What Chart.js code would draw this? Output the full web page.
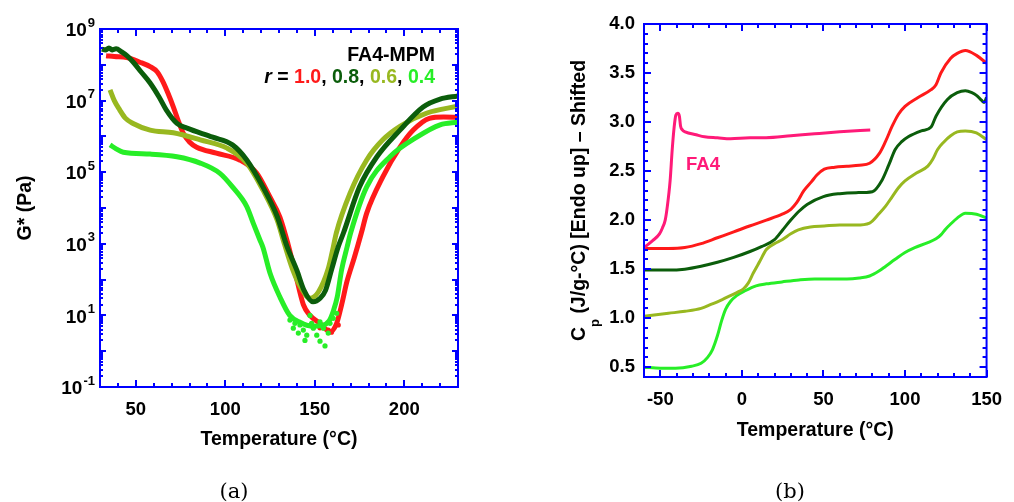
<!DOCTYPE html>
<html>
<head>
<meta charset="utf-8">
<title>FA4-MPM rheology and DSC</title>
<script src="https://cdn.jsdelivr.net/npm/chart.js@4.4.1/dist/chart.umd.min.js"></script>
<style>
  body { margin: 0; background: #fff; }
  #wrap { position: relative; width: 1014px; height: 502px; overflow: hidden; }
  canvas { position: absolute; top: 0; }
  #left { left: 0; }
  #right { left: 510px; }
  .cap { position: absolute; top: 478px; width: 60px; text-align: center;
         font: 21px 'DejaVu Serif', 'Liberation Serif', serif; line-height: 26px; }
</style>
</head>
<body>
<div id="wrap">
  <canvas id="left" width="510" height="502"></canvas>
  <canvas id="right" width="504" height="502"></canvas>
  <div class="cap" style="left:204px">(a)</div>
  <div class="cap" style="left:760px">(b)</div>
</div>
<script>
var FONT = "'Liberation Sans', Arial, Helvetica, sans-serif";
var BLUE = '#0000ff';
Chart.defaults.font.family = FONT;
Chart.defaults.color = '#000';

// (a) G* (Pa) against temperature, one series per r
var gRed = [[33.4, 1.8e8], [38, 1.7e8], [45, 1.6e8], [52, 1.2e8], [58, 8.9e7], [62, 6.3e7], [65, 3.5e7],
  [68, 1.6e7], [71, 6.6e6], [74, 2.5e6], [76.4, 1.26e6], [80, 7e5], [84, 5e5], [95, 3.4e5], [108, 2.2e5],
  [117.5, 9.5e4], [125, 2e4], [130.5, 5.6e3], [135, 1e3], [139, 160], [143.6, 20], [147.3, 10], [152.9, 6],
  [158.5, 3.5], [162.2, 6], [165, 20], [168, 90], [172, 400], [176, 2000], [179, 7.2e3], [188, 7.4e4],
  [197.6, 5e5], [205, 1.5e6], [214, 3.2e6], [222, 3.5e6], [230, 3.4e6]];
var gDark = [[31, 2.75e8], [33, 2.6e8], [35, 2.95e8], [37, 2.6e8], [39, 2.8e8], [42, 2.3e8], [45, 1.8e8],
  [48.5, 1.2e8], [53, 6.3e7], [58, 3.1e7], [63, 1.26e7], [67, 5.5e6], [73, 2.3e6], [78.6, 1.7e6], [93, 9.5e5],
  [104, 5.8e5], [112, 2.2e5], [121, 3.9e4], [129, 5.8e3], [134.5, 830], [140, 180], [144, 50], [149, 24],
  [153, 30], [156, 50], [159.5, 200], [163, 800], [166, 2000], [175, 3.9e4], [184.7, 2.7e5], [197.6, 1.5e6],
  [210.5, 6.6e6], [220, 1.1e7], [230, 1.35e7]];
var gOlive = [[35.6, 2e7], [38, 1e7], [41, 5.5e6], [44, 3.3e6], [48.5, 2.3e6], [58, 1.5e6], [71, 1.26e6],
  [86, 8e5], [101, 4.7e5], [112, 1.8e5], [121, 3.2e4], [129, 4.6e3], [133, 1000], [137.5, 200], [142, 63],
  [147.3, 30], [152, 45], [157.5, 200], [160, 680], [162, 2000], [169.7, 2.6e4], [179, 2.2e5], [188, 8e5],
  [197.6, 1.9e6], [212.7, 4.5e6], [230, 7e6]];
var gGreen = [[35.6, 5.8e5], [39, 4.5e5], [43, 3.6e5], [58, 3.2e5], [73, 2.7e5], [86, 1.8e5], [97, 9.3e4],
  [104, 3.9e4], [112, 1.1e4], [115.6, 3.8e3], [119.4, 1.26e3], [121, 800], [125, 150], [130.6, 32], [136, 10],
  [142, 6.3], [148, 5], [154, 5.2], [158, 7], [160.5, 14], [162.5, 32], [165, 190], [168, 800], [170, 2000],
  [179, 3.9e4], [192, 2.7e5], [207, 9.5e5], [220, 2.1e6], [230, 2.5e6]];
var gGreenDots = [[136.1, 7.4], [138.9, 6], [138, 4.4], [141.7, 5.4], [143.6, 3.9], [140.8, 3.2], [145.5, 2.8],
  [144.5, 2], [149.2, 4.4], [151.1, 2.8], [152.9, 1.9], [155.7, 1.4], [148.2, 6], [154.8, 4.4], [158.5, 6],
  [160.3, 8.3], [157.5, 3.2], [147.3, 10], [152.9, 6.6], [162.2, 11.5]];
var gRedDots = [[152.9, 4.5], [157.5, 3.9], [159.3, 3.4], [163.1, 5.4]];
var gTicksX = [50, 100, 150, 200];
var gTicksY = [1e-1, 1e1, 1e3, 1e5, 1e7, 1e9];
var ratios = ['1.0', '0.8', '0.6', '0.4'];
var ratioColors = ['#ff1a1a', '#0b5d0b', '#98b820', '#27ee27'];

// (b) Cp (J/g-°C), curves shifted vertically
var cpRed = [[-60, 1.71], [-45, 1.71], [-35, 1.72], [-25, 1.76], [-15, 1.82], [-5, 1.88], [4.7, 1.94],
  [15, 2.0], [24.7, 2.06], [30, 2.11], [33.7, 2.18], [38, 2.3], [42.6, 2.39], [46, 2.46], [50.5, 2.52],
  [57, 2.54], [64.3, 2.55], [72, 2.56], [78.3, 2.58], [84.3, 2.68], [88, 2.8], [92.2, 2.96], [96, 3.08],
  [100, 3.16], [108, 3.25], [116, 3.33], [119, 3.38], [122, 3.5], [128, 3.65], [132, 3.7], [137, 3.73],
  [143.8, 3.68], [150, 3.6]];
var cpDark = [[-60, 1.49], [-45, 1.49], [-35, 1.5], [-25, 1.53], [-15, 1.57], [-5, 1.62], [5, 1.68],
  [12, 1.73], [20, 1.8], [25, 1.9], [30, 2.0], [35, 2.09], [40, 2.16], [50, 2.24], [60, 2.27], [70, 2.28],
  [80, 2.29], [86, 2.41], [90, 2.56], [94, 2.72], [98, 2.8], [102, 2.85], [110, 2.91], [116, 2.95],
  [119, 3.06], [126, 3.23], [132, 3.3], [137, 3.32], [141, 3.3], [144, 3.27], [147, 3.22], [148.5, 3.2],
  [150, 3.25]];
var cpOlive = [[-60, 1.02], [-45, 1.05], [-34.8, 1.07], [-25, 1.1], [-19, 1.14], [-12, 1.19], [-7, 1.23],
  [-2, 1.27], [1, 1.3], [4, 1.36], [7, 1.46], [11, 1.58], [15, 1.7], [20, 1.76], [24.7, 1.8], [30, 1.86],
  [34.6, 1.9], [42, 1.93], [50.5, 1.94], [60, 1.95], [70, 1.95], [78.3, 1.97], [84.3, 2.07], [88, 2.14],
  [92.2, 2.24], [96, 2.33], [100, 2.4], [107, 2.48], [114, 2.55], [117, 2.62], [120, 2.72], [124, 2.8],
  [128, 2.86], [132, 2.9], [137, 2.91], [143.8, 2.89], [150, 2.82]];
var cpGreen = [[-60, 0.5], [-50, 0.49], [-40.7, 0.49], [-30.8, 0.51], [-25, 0.54], [-21, 0.6], [-18, 0.68],
  [-15, 0.82], [-12.5, 0.97], [-10, 1.09], [-7, 1.17], [-3.2, 1.23], [2, 1.28], [8.7, 1.33], [15, 1.35],
  [24.6, 1.37], [35, 1.39], [44.6, 1.4], [55, 1.4], [64.4, 1.4], [72, 1.41], [78.3, 1.43], [84, 1.48],
  [88.2, 1.53], [94, 1.6], [100, 1.67], [106, 1.72], [114, 1.77], [119, 1.81], [122, 1.85], [125, 1.91],
  [128, 1.96], [132, 2.02], [137, 2.07], [143.8, 2.06], [150, 2.02]];
var cpFA4 = [[-60, 1.72], [-54.7, 1.79], [-50.5, 1.86], [-48.7, 1.92], [-47, 2.0], [-45.7, 2.14], [-44, 2.4],
  [-42.7, 2.72], [-41.5, 2.95], [-40.5, 3.07], [-39.3, 3.09], [-38.3, 3.06], [-37.6, 2.96], [-36.5, 2.92],
  [-34.8, 2.9], [-28, 2.87], [-22.9, 2.85], [-15, 2.84], [-7, 2.83], [5, 2.84], [14.8, 2.84], [30, 2.86],
  [44.6, 2.88], [60, 2.9], [78.7, 2.92]];
var cpTicksX = [-50, 0, 50, 100, 150];
var cpTicksY = [0.5, 1.0, 1.5, 2.0, 2.5, 3.0, 3.5, 4.0];
var fa4Color = '#ff1a78';

function xy(a) {
  return a.map(function (p) { return { x: p[0], y: p[1] }; });
}
function steps(from, to, step) {
  var out = [];
  for (var v = from; v <= to + step / 2; v += step) out.push(Math.round(v * 100) / 100);
  return out;
}
function line(data, color, width) {
  return { data: xy(data), borderColor: color, backgroundColor: color, borderWidth: width,
    pointRadius: 0, fill: false, cubicInterpolationMode: 'monotone' };
}
function dots(data, color) {
  return { data: xy(data), showLine: false, pointRadius: 2.6, borderWidth: 0,
    backgroundColor: color, pointBackgroundColor: color };
}

// blue box with inward ticks on all four sides
function frame(t) {
  return {
    id: 'frame',
    afterDatasetsDraw: function (chart) {
      var ctx = chart.ctx, a = chart.chartArea, sx = chart.scales.x, sy = chart.scales.y;
      ctx.save();
      ctx.strokeStyle = BLUE;
      ctx.lineWidth = 2;
      ctx.beginPath();
      t.x.forEach(function (s) {
        s[0].forEach(function (v) {
          var p = Math.round(sx.getPixelForValue(v));
          ctx.moveTo(p, a.bottom); ctx.lineTo(p, a.bottom - s[1]);
          ctx.moveTo(p, a.top); ctx.lineTo(p, a.top + s[1]);
        });
      });
      t.y.forEach(function (s) {
        s[0].forEach(function (v) {
          var p = Math.round(sy.getPixelForValue(v));
          ctx.moveTo(a.left, p); ctx.lineTo(a.left + s[1], p);
          ctx.moveTo(a.right, p); ctx.lineTo(a.right - s[1], p);
        });
      });
      ctx.stroke();
      ctx.strokeRect(a.left, a.top, a.right - a.left, a.bottom - a.top);
      ctx.restore();
    }
  };
}

var logMinor = [];
for (var d = -1; d < 9; d++) {
  for (var k = 2; k <= 9; k++) logMinor.push(k * Math.pow(10, d));
}
var logDecades = [];
for (var e = -1; e <= 9; e++) logDecades.push(Math.pow(10, e));

var leftText = {
  id: 'leftText',
  afterDraw: function (chart) {
    var ctx = chart.ctx, sy = chart.scales.y;
    ctx.save();
    ctx.fillStyle = '#000';
    ctx.textBaseline = 'middle';
    ctx.textAlign = 'left';
    gTicksY.forEach(function (v) {
      var py = sy.getPixelForValue(v);
      var ex = String(Math.round(Math.log10(v)));
      ctx.font = 'bold 13px ' + FONT;
      var we = ctx.measureText(ex).width;
      ctx.font = 'bold 19px ' + FONT;
      var wb = ctx.measureText('10').width;
      ctx.fillText('10', 95 - we - wb - 1, py + 2);
      ctx.font = 'bold 13px ' + FONT;
      ctx.fillText(ex, 95 - we, py - 6);
    });

    ctx.textAlign = 'right';
    ctx.font = 'bold 19.5px ' + FONT;
    ctx.fillText('FA4-MPM', 435, 56);

    var parts = [{ t: 'r', c: '#000', f: 'italic bold 19.5px ' }, { t: ' = ', c: '#000' }];
    ratios.forEach(function (r, i) {
      parts.push({ t: r, c: ratioColors[i] });
      if (i < ratios.length - 1) parts.push({ t: ', ', c: '#000' });
    });
    var total = 0;
    parts.forEach(function (p) {
      ctx.font = (p.f || 'bold 19.5px ') + FONT;
      p.w = ctx.measureText(p.t).width;
      total += p.w;
    });
    var x = 435 - total;
    ctx.textAlign = 'left';
    parts.forEach(function (p) {
      ctx.font = (p.f || 'bold 19.5px ') + FONT;
      ctx.fillStyle = p.c;
      ctx.fillText(p.t, x, 78);
      x += p.w;
    });
    ctx.restore();
  }
};

var rightText = {
  id: 'rightText',
  afterDraw: function (chart) {
    var ctx = chart.ctx;
    ctx.save();
    ctx.fillStyle = fa4Color;
    ctx.font = 'bold 18.5px ' + FONT;
    ctx.textBaseline = 'middle';
    ctx.fillText('FA4', 176, 165);

    // rotated y title with subscript p
    var main = 'bold 19.5px ' + FONT, sub = 'bold 13px ' + FONT;
    var rest = ' (J/g-\u00b0C) [Endo up] \u2013 Shifted';
    ctx.font = main;
    var wC = ctx.measureText('C').width, wR = ctx.measureText(rest).width;
    ctx.font = sub;
    var wp = ctx.measureText('p').width;
    var x0 = -(wC + wp + wR) / 2;
    ctx.translate(75, 200.5);
    ctx.rotate(-Math.PI / 2);
    ctx.textBaseline = 'alphabetic';
    ctx.fillStyle = '#000';
    ctx.font = main;
    ctx.fillText('C', x0, 0);
    ctx.font = sub;
    ctx.fillText('p', x0 + wC, 14);
    ctx.font = main;
    ctx.fillText(rest, x0 + wC + wp, 0);
    ctx.restore();
  }
};

var tickFont = { size: 18.5, weight: 'bold', family: FONT };
var titleFont = { size: 19.5, weight: 'bold', family: FONT };

new Chart(document.getElementById('left'), {
  type: 'line',
  data: {
    datasets: [
      dots(gGreenDots, ratioColors[3]),
      line(gDark, ratioColors[1], 5),
      line(gOlive, ratioColors[2], 5),
      line(gGreen, ratioColors[3], 5),
      line(gRed, ratioColors[0], 5),
      dots(gRedDots, ratioColors[0])
    ]
  },
  options: {
    responsive: false,
    animation: false,
    devicePixelRatio: 1,
    layout: { padding: { top: 29, right: 52, left: 0, bottom: 0 } },
    plugins: { legend: { display: false }, tooltip: { enabled: false } },
    scales: {
      x: {
        type: 'linear', min: 30, max: 230,
        grid: { display: false, drawTicks: false }, border: { display: false },
        ticks: { font: tickFont, color: '#000', padding: 12, maxRotation: 0 },
        afterBuildTicks: function (s) { s.ticks = gTicksX.map(function (v) { return { value: v }; }); },
        afterFit: function (s) { s.height = 115; },
        title: { display: true, text: 'Temperature (\u00b0C)', font: titleFont, color: '#000',
          padding: { top: 0, bottom: 51 } }
      },
      y: {
        type: 'logarithmic', min: 0.1, max: 1e9,
        grid: { display: false, drawTicks: false }, border: { display: false },
        ticks: { display: false },
        afterFit: function (s) { s.width = 100; },
        title: { display: true, text: 'G* (Pa)', font: titleFont, color: '#000',
          padding: { top: 14, bottom: 0 } }
      }
    }
  },
  plugins: [frame({
    x: [[steps(30, 230, 10), 4], [gTicksX, 7]],
    y: [[logMinor, 3], [logDecades, 6]]
  }), leftText]
});

new Chart(document.getElementById('right'), {
  type: 'line',
  data: {
    datasets: [
      line(cpFA4, fa4Color, 3),
      line(cpRed, ratioColors[0], 3),
      line(cpDark, ratioColors[1], 3),
      line(cpOlive, ratioColors[2], 3),
      line(cpGreen, ratioColors[3], 3)
    ]
  },
  options: {
    responsive: false,
    animation: false,
    devicePixelRatio: 1,
    layout: { padding: { top: 24, right: 18, left: 0, bottom: 0 } },
    plugins: { legend: { display: false }, tooltip: { enabled: false } },
    scales: {
      x: {
        type: 'linear', min: -60, max: 150,
        grid: { display: false, drawTicks: false }, border: { display: false },
        ticks: { font: tickFont, color: '#000', padding: 12, maxRotation: 0 },
        afterBuildTicks: function (s) { s.ticks = cpTicksX.map(function (v) { return { value: v }; }); },
        afterFit: function (s) { s.height = 125; },
        title: { display: true, text: 'Temperature (\u00b0C)', font: titleFont, color: '#000',
          padding: { top: 0, bottom: 60 } }
      },
      y: {
        type: 'linear', min: 0.4, max: 4.0,
        grid: { display: false, drawTicks: false }, border: { display: false },
        ticks: { font: tickFont, color: '#000', padding: 9,
          callback: function (v) { return v.toFixed(1); } },
        afterBuildTicks: function (s) { s.ticks = cpTicksY.map(function (v) { return { value: v }; }); },
        afterFit: function (s) { s.width = 134; }
      }
    }
  },
  plugins: [frame({
    x: [[steps(-60, 150, 10), 4], [cpTicksX, 7]],
    y: [[steps(0.4, 4.0, 0.1), 4], [cpTicksY, 7]]
  }), rightText]
});
</script>
</body>
</html>
